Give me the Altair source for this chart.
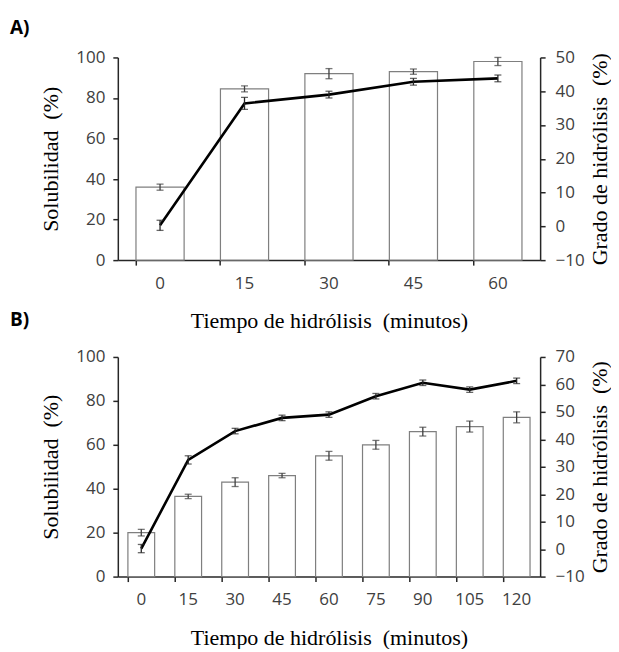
import altair as alt
import pandas as pd

# Panel A
time_a = ["0", "15", "30", "45", "60"]
sol_a = [36.0, 84.5, 92.0, 93.0, 98.0]
sol_a_err = [1.5, 1.5, 2.5, 1.3, 2.0]
gh_a = [0.3, 36.4, 39.0, 42.8, 43.8]
gh_a_err = [1.5, 1.8, 1.0, 1.0, 1.0]

# Panel B
time_b = ["0", "15", "30", "45", "60", "75", "90", "105", "120"]
sol_b = [20.0, 36.5, 43.0, 46.0, 55.0, 60.0, 66.0, 68.3, 72.5]
sol_b_err = [1.5, 1.0, 2.0, 1.0, 2.0, 2.0, 2.0, 2.5, 2.5]
gh_b = [0.2, 32.5, 43.0, 47.8, 49.0, 55.7, 60.6, 58.1, 61.3]
gh_b_err = [1.5, 1.5, 1.0, 1.0, 1.0, 1.0, 1.0, 1.0, 1.0]

left_ticks = [0, 20, 40, 60, 80, 100]
right_ticks_a = [-10, 0, 10, 20, 30, 40, 50]
right_ticks_b = [-10, 0, 10, 20, 30, 40, 50, 60, 70]

X_TITLE = "Tiempo de hidrólisis\u00a0 (minutos)"
Y_TITLE = "Solubilidad\u00a0 (%)"
Y2_TITLE = "Grado de hidrólisis\u00a0 (%)"

W = 423


def panel(times, sol, sol_err, gh, gh_err, rticks, height, label, xtitle_pad, title_off):
    df = pd.DataFrame({
        "t": times,
        "sol": sol,
        "sol_lo": [v - e for v, e in zip(sol, sol_err)],
        "sol_hi": [v + e for v, e in zip(sol, sol_err)],
        "gh": gh,
        "gh_lo": [v - e for v, e in zip(gh, gh_err)],
        "gh_hi": [v + e for v, e in zip(gh, gh_err)],
    })
    base = alt.Chart(df)
    x = alt.X(
        "t:N", sort=times,
        scale=alt.Scale(paddingInner=0.43, paddingOuter=0.215),
        axis=alt.Axis(
            orient="bottom", bandPosition=0,
            labelAngle=0, title=X_TITLE, labelPadding=10,
            titlePadding=xtitle_pad,
        ),
    )
    yl_scale = alt.Scale(domain=[0, 100], nice=False, zero=False)
    yl_axis = alt.Axis(values=left_ticks, title=Y_TITLE, labelPadding=8,
                       titlePadding=13)
    yr_scale = alt.Scale(domain=[rticks[0], rticks[-1]], nice=False, zero=False)
    yr_axis = alt.Axis(orient="right", values=rticks, title=Y2_TITLE,
                       labelPadding=10, titlePadding=5, titleAngle=270,
                       titleBaseline="top")

    bars = base.mark_bar(fill="white", stroke="#7f7f7f", strokeWidth=1.2).encode(
        x=x, y=alt.Y("sol:Q", scale=yl_scale, axis=yl_axis)
    )
    bar_err = base.mark_errorbar(ticks={"size": 7}, thickness=1.3, color="#404040").encode(
        x=x, y=alt.Y("sol_lo:Q", scale=yl_scale, axis=yl_axis), y2="sol_hi:Q"
    )
    line = base.mark_line(color="black", strokeWidth=2.6).encode(
        x=x, y=alt.Y("gh:Q", scale=yr_scale, axis=yr_axis)
    )
    line_err = base.mark_errorbar(ticks={"size": 7}, thickness=1.3, color="#262626").encode(
        x=x, y=alt.Y("gh_lo:Q", scale=yr_scale, axis=yr_axis), y2="gh_hi:Q"
    )
    return alt.layer(
        alt.layer(bars, bar_err), alt.layer(line, line_err)
    ).resolve_scale(y="independent").properties(
        width=W, height=height,
        title=alt.TitleParams(
            label, anchor="start", frame="group", dx=-108, offset=title_off,
            font="Open Sans", fontSize=19, fontWeight="bold", color="black",
        ),
    )


pa = panel(time_a, sol_a, sol_a_err, gh_a, gh_a_err, right_ticks_a, 203, "A)", 19, 10)
pb = panel(time_b, sol_b, sol_b_err, gh_b, gh_b_err, right_ticks_b, 220, "B)", 20, 18)

chart = alt.vconcat(pa, pb, spacing=97, bounds="flush").properties(
    padding={"left": 2, "top": 11, "right": 0, "bottom": 0}
).configure_view(stroke=None).configure_axis(
    domainColor="#262626", domainWidth=1.5, tickColor="#262626", tickWidth=1.5,
    tickSize=5, labelFont="Open Sans", labelFontSize=17, labelColor="#404040",
    titleFont="Liberation Serif", titleFontSize=22, titleFontWeight="normal",
    titleColor="black", grid=False,
)

chart.save("out.html", embed_options={"renderer": "svg", "actions": False})
